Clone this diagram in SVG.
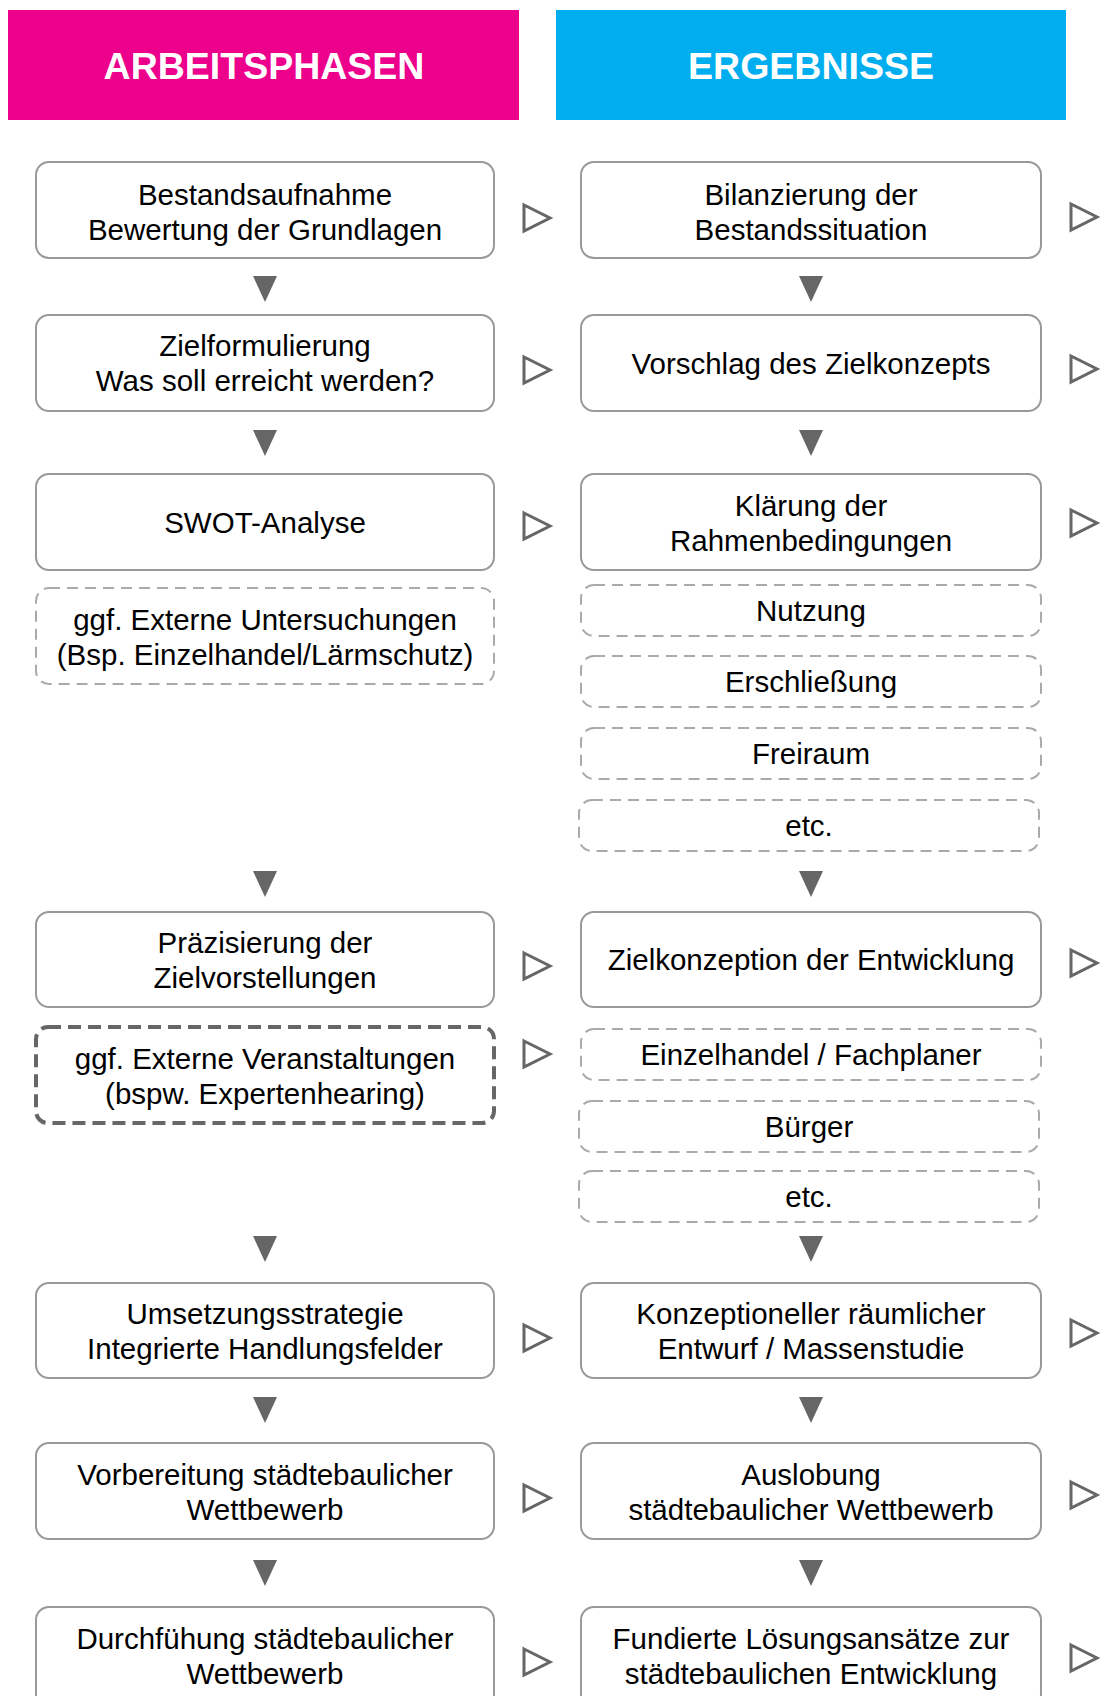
<svg xmlns="http://www.w3.org/2000/svg" width="1101" height="1696" viewBox="0 0 1101 1696">
<style>
.hdr{font-family:"Liberation Sans",Arial,sans-serif;font-weight:bold;font-size:37.5px;fill:#fff;text-anchor:middle}
.t{font-family:"Liberation Sans",Arial,sans-serif;font-size:29.5px;fill:#000;text-anchor:middle}
.box{fill:#fff;stroke:#999;stroke-width:2}
.dash{fill:#fff;stroke:#aaa;stroke-width:2;stroke-dasharray:11 7}
.thick{fill:#fff;stroke:#666;stroke-width:4;stroke-dasharray:13 7}
.down{fill:#666}
.right{fill:none;stroke:#666;stroke-width:3}
</style>
<rect width="1101" height="1696" fill="#fff"/>
<g id="header-arbeitsphasen">
<rect x="8" y="10" width="511" height="110" fill="#EC008C"/>
<text class="hdr" x="264" y="79">ARBEITSPHASEN</text>
</g>
<g id="header-ergebnisse">
<rect x="556" y="10" width="510" height="110" fill="#00AEEF"/>
<text class="hdr" x="811" y="79">ERGEBNISSE</text>
</g>

<g id="l1"><rect class="box" x="36" y="162" width="458" height="96" rx="13"/>
<text class="t" x="265" y="205">Bestandsaufnahme</text><text class="t" x="265" y="240">Bewertung der Grundlagen</text></g>
<g id="r1"><rect class="box" x="581" y="162" width="460" height="96" rx="13"/>
<text class="t" x="811" y="205">Bilanzierung der</text><text class="t" x="811" y="240">Bestandssituation</text></g>

<g id="l2"><rect class="box" x="36" y="315" width="458" height="96" rx="13"/>
<text class="t" x="265" y="356">Zielformulierung</text><text class="t" x="265" y="391">Was soll erreicht werden?</text></g>
<g id="r2"><rect class="box" x="581" y="315" width="460" height="96" rx="13"/>
<text class="t" x="811" y="374">Vorschlag des Zielkonzepts</text></g>

<g id="l3"><rect class="box" x="36" y="474" width="458" height="96" rx="13"/>
<text class="t" x="265" y="533">SWOT-Analyse</text></g>
<g id="r3"><rect class="box" x="581" y="474" width="460" height="96" rx="13"/>
<text class="t" x="811" y="516">Klärung der</text><text class="t" x="811" y="551">Rahmenbedingungen</text></g>

<g id="l3b"><rect class="dash" x="36" y="588" width="458" height="96" rx="13"/>
<text class="t" x="265" y="630">ggf. Externe Untersuchungen</text><text class="t" x="265" y="665">(Bsp. Einzelhandel/Lärmschutz)</text></g>

<g id="r3a"><rect class="dash" x="581" y="585" width="460" height="51" rx="13"/>
<text class="t" x="811" y="621">Nutzung</text></g>
<g id="r3b"><rect class="dash" x="581" y="656" width="460" height="51" rx="13"/>
<text class="t" x="811" y="692">Erschließung</text></g>
<g id="r3c"><rect class="dash" x="581" y="728" width="460" height="51" rx="13"/>
<text class="t" x="811" y="764">Freiraum</text></g>
<g id="r3d"><rect class="dash" x="579" y="800" width="460" height="51" rx="13"/>
<text class="t" x="809" y="836">etc.</text></g>

<g id="l4"><rect class="box" x="36" y="912" width="458" height="95" rx="13"/>
<text class="t" x="265" y="953">Präzisierung der</text><text class="t" x="265" y="988">Zielvorstellungen</text></g>
<g id="r4"><rect class="box" x="581" y="912" width="460" height="95" rx="13"/>
<text class="t" x="811" y="970">Zielkonzeption der Entwicklung</text></g>

<g id="l4b"><rect class="thick" x="36" y="1027" width="458" height="96" rx="12"/>
<text class="t" x="265" y="1069">ggf. Externe Veranstaltungen</text><text class="t" x="265" y="1104">(bspw. Expertenhearing)</text></g>

<g id="r4a"><rect class="dash" x="581" y="1029" width="460" height="51" rx="13"/>
<text class="t" x="811" y="1065">Einzelhandel / Fachplaner</text></g>
<g id="r4b"><rect class="dash" x="579" y="1101" width="460" height="51" rx="13"/>
<text class="t" x="809" y="1137">Bürger</text></g>
<g id="r4c"><rect class="dash" x="579" y="1171" width="460" height="51" rx="13"/>
<text class="t" x="809" y="1207">etc.</text></g>

<g id="l5"><rect class="box" x="36" y="1283" width="458" height="95" rx="13"/>
<text class="t" x="265" y="1324">Umsetzungsstrategie</text><text class="t" x="265" y="1359">Integrierte Handlungsfelder</text></g>
<g id="r5"><rect class="box" x="581" y="1283" width="460" height="95" rx="13"/>
<text class="t" x="811" y="1324">Konzeptioneller räumlicher</text><text class="t" x="811" y="1359">Entwurf / Massenstudie</text></g>

<g id="l6"><rect class="box" x="36" y="1443" width="458" height="96" rx="13"/>
<text class="t" x="265" y="1485">Vorbereitung städtebaulicher</text><text class="t" x="265" y="1520">Wettbewerb</text></g>
<g id="r6"><rect class="box" x="581" y="1443" width="460" height="96" rx="13"/>
<text class="t" x="811" y="1485">Auslobung</text><text class="t" x="811" y="1520">städtebaulicher Wettbewerb</text></g>

<g id="l7"><rect class="box" x="36" y="1607" width="458" height="100" rx="13"/>
<text class="t" x="265" y="1649">Durchfühung städtebaulicher</text><text class="t" x="265" y="1684">Wettbewerb</text></g>
<g id="r7"><rect class="box" x="581" y="1607" width="460" height="100" rx="13"/>
<text class="t" x="811" y="1649">Fundierte Lösungsansätze zur</text><text class="t" x="811" y="1684">städtebaulichen Entwicklung</text></g>

<g id="connectors">
<polygon class="down" points="253,276 277,276 265,302"/>
<polygon class="down" points="799,276 823,276 811,302"/>
<polygon class="down" points="253,430 277,430 265,456"/>
<polygon class="down" points="799,430 823,430 811,456"/>
<polygon class="down" points="253,871 277,871 265,897"/>
<polygon class="down" points="799,871 823,871 811,897"/>
<polygon class="down" points="253,1236 277,1236 265,1262"/>
<polygon class="down" points="799,1236 823,1236 811,1262"/>
<polygon class="down" points="253,1397 277,1397 265,1423"/>
<polygon class="down" points="799,1397 823,1397 811,1423"/>
<polygon class="down" points="253,1560 277,1560 265,1586"/>
<polygon class="down" points="799,1560 823,1560 811,1586"/>

<polygon class="right" points="524,205 550,218 524,231"/>
<polygon class="right" points="1071,204 1097,217 1071,230"/>
<polygon class="right" points="524,357 550,370 524,383"/>
<polygon class="right" points="1071,356 1097,369 1071,382"/>
<polygon class="right" points="524,513 550,526 524,539"/>
<polygon class="right" points="1071,510 1097,523 1071,536"/>
<polygon class="right" points="524,953 550,966 524,979"/>
<polygon class="right" points="1071,950 1097,963 1071,976"/>
<polygon class="right" points="524,1041 550,1054 524,1067"/>
<polygon class="right" points="524,1325 550,1338 524,1351"/>
<polygon class="right" points="1071,1320 1097,1333 1071,1346"/>
<polygon class="right" points="524,1485 550,1498 524,1511"/>
<polygon class="right" points="1071,1482 1097,1495 1071,1508"/>
<polygon class="right" points="524,1649 550,1662 524,1675"/>
<polygon class="right" points="1071,1645 1097,1658 1071,1671"/>
</g>
</svg>
